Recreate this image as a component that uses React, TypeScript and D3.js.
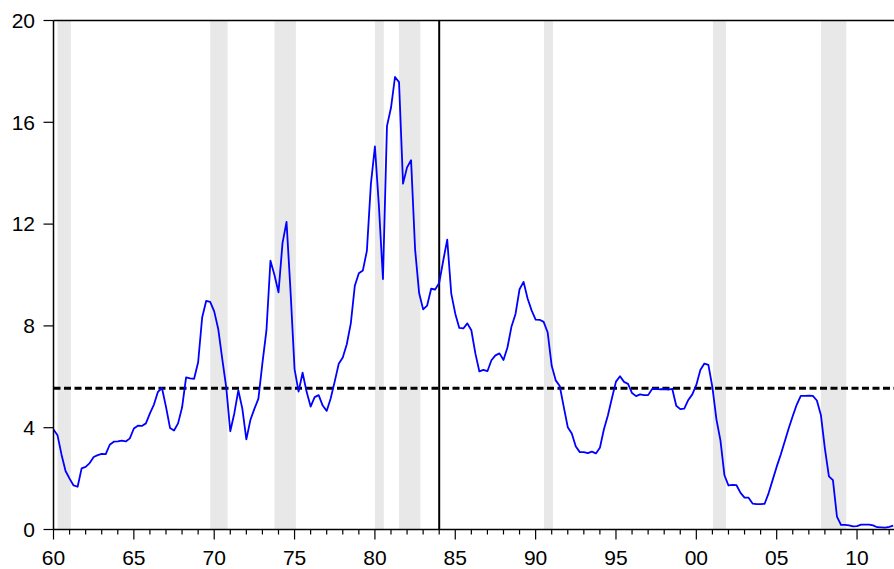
import React from 'react'
import * as d3 from 'd3'

// quarterly values, 1960Q1 .. 2012Q2
const startYear = 1960
const rates: number[] = [
    3.93, 3.70, 2.94, 2.30,
    2.00, 1.73, 1.68, 2.40,
    2.46, 2.61, 2.85, 2.92,
    2.97, 2.96, 3.33, 3.45,
    3.46, 3.49, 3.46, 3.58,
    3.97, 4.08, 4.07, 4.17,
    4.56, 4.91, 5.41, 5.56,
    4.82, 3.99, 3.89, 4.17,
    4.79, 5.98, 5.94, 5.92,
    6.57, 8.33, 8.98, 8.94,
    8.57, 7.88, 6.70, 5.57,
    3.86, 4.56, 5.47, 4.75,
    3.54, 4.30, 4.74, 5.14,
    6.54, 7.82, 10.56, 10.00,
    9.32, 11.25, 12.09, 9.35,
    6.30, 5.42, 6.16, 5.41,
    4.83, 5.20, 5.28, 4.87,
    4.66, 5.16, 5.82, 6.51,
    6.76, 7.28, 8.10, 9.58,
    10.07, 10.18, 10.95, 13.58,
    15.05, 12.69, 9.84, 15.85,
    16.57, 17.78, 17.58, 13.59,
    14.23, 14.51, 11.01, 9.29,
    8.65, 8.80, 9.46, 9.43,
    9.69, 10.56, 11.39, 9.27,
    8.48, 7.92, 7.90, 8.10,
    7.83, 6.92, 6.21, 6.27,
    6.22, 6.65, 6.84, 6.92,
    6.66, 7.16, 7.98, 8.47,
    9.44, 9.73, 9.08, 8.61,
    8.25, 8.24, 8.16, 7.74,
    6.43, 5.86, 5.64, 4.82,
    4.02, 3.77, 3.26, 3.04,
    3.04, 3.00, 3.06, 2.99,
    3.21, 3.94, 4.49, 5.17,
    5.81, 6.02, 5.80, 5.72,
    5.36, 5.24, 5.31, 5.28,
    5.28, 5.52, 5.53, 5.51,
    5.52, 5.50, 5.53, 4.86,
    4.73, 4.75, 5.09, 5.31,
    5.68, 6.27, 6.52, 6.47,
    5.59, 4.33, 3.50, 2.13,
    1.73, 1.75, 1.74, 1.44,
    1.25, 1.25, 1.02, 1.00,
    1.00, 1.01, 1.43, 1.95,
    2.47, 2.94, 3.46, 3.98,
    4.46, 4.91, 5.25, 5.25,
    5.26, 5.25, 5.07, 4.50,
    3.18, 2.09, 1.94, 0.51,
    0.18, 0.18, 0.16, 0.12,
    0.13, 0.19, 0.19, 0.19,
    0.16, 0.09, 0.08, 0.07,
    0.10, 0.15,
]

// recession periods (start, end) in fractional years
const recessions: [number, number][] = [
    [1960.25, 1961.08],
    [1969.75, 1970.83],
    [1973.75, 1975.08],
    [1980.0, 1980.55],
    [1981.5, 1982.83],
    [1990.52, 1991.08],
    [2001.04, 2001.85],
    [2007.76, 2009.33],
]

const meanLevel = 5.55
const breakYear = 1984
const yTicks = [0, 4, 8, 12, 16, 20]
const xMajor = [1960, 1965, 1970, 1975, 1980, 1985, 1990, 1995, 2000, 2005, 2010]

const width = 894
const height = 569
const left = 53.5
const top = 20.5
const bottom = 529.5

const App = () => {
    const x = d3.scaleLinear()
        .domain([startYear, startYear + (rates.length - 1) / 4])
        .range([left, 893.2])
    const y = d3.scaleLinear().domain([0, 20]).range([bottom, top])

    const line = d3.line<number>()
        .x((d, i) => x(startYear + i / 4))
        .y(d => y(d))

    const minor = d3.range(1960, 2013)
    const font = 'Arial, "Liberation Sans", sans-serif'

    return (
        <svg width={width} height={height} style={{ position: 'absolute', left: 0, top: 0 }}>
            <rect x={0} y={0} width={width} height={height} fill="white" />
            {recessions.map(([a, b], i) => (
                <rect key={`rec-${i}`} x={x(a)} y={top} width={x(b) - x(a)} height={bottom - top} fill="#e8e8e8" />
            ))}
            <line x1={left} x2={width} y1={y(meanLevel)} y2={y(meanLevel)}
                  stroke="black" strokeWidth={3} strokeDasharray="7,3.5" />
            <line x1={x(breakYear)} x2={x(breakYear)} y1={top} y2={bottom} stroke="black" strokeWidth={2} />
            <path d={line(rates) ?? ''} fill="none" stroke="#0000ff" strokeWidth={1.8} strokeLinejoin="round" />

            {/* frame */}
            <line x1={left} x2={width} y1={top} y2={top} stroke="black" strokeWidth={1.5} />
            <line x1={left} x2={left} y1={top} y2={bottom} stroke="black" strokeWidth={1.5} />
            <line x1={left} x2={width} y1={bottom} y2={bottom} stroke="black" strokeWidth={1.5} />

            {yTicks.map(t => (
                <g key={`y-${t}`}>
                    <line x1={left - 10} x2={left} y1={y(t)} y2={y(t)} stroke="black" strokeWidth={1.2} />
                    <text x={35} y={y(t)} dy="0.35em" textAnchor="end" fontSize={21} fontFamily={font}>{t}</text>
                </g>
            ))}
            {minor.map(t => (
                <line key={`xm-${t}`} x1={x(t)} x2={x(t)} y1={bottom} y2={bottom + (t % 5 === 0 ? 10 : 5)}
                      stroke="black" strokeWidth={1.2} />
            ))}
            {xMajor.map(t => (
                <text key={`xl-${t}`} x={x(t)} y={564.5} textAnchor="middle" fontSize={21} fontFamily={font}>
                    {d3.format('02d')(t % 100)}
                </text>
            ))}
        </svg>
    )
}

export default App
